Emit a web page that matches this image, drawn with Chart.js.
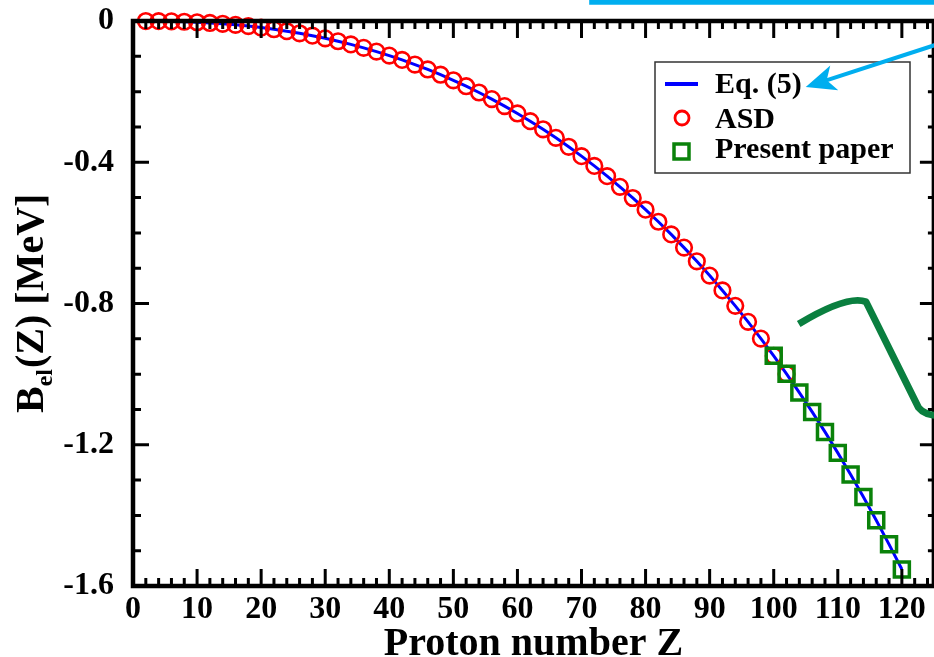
<!DOCTYPE html>
<html>
<head>
<meta charset="utf-8">
<script src="https://cdn.jsdelivr.net/npm/chart.js@4/dist/chart.umd.min.js"></script>
<style>
    html, body { margin: 0; padding: 0; background: #fff; overflow: hidden; }
    #wrap { position: relative; width: 948px; height: 657px; }
    canvas { display: block; }
</style>
</head>
<body>
<div id="wrap"><canvas id="belChart" width="948" height="657"></canvas></div>
<script>
// Datos (B_el en MeV)
const eqZ = [0, 2, 4, 6, 8, 10, 12, 14, 16, 18, 20, 22, 24, 26, 28, 30, 32, 34, 36, 38, 40,
    42, 44, 46, 48, 50, 52, 54, 56, 58, 60, 62, 64, 66, 68, 70, 72, 74, 76, 78, 80,
    82, 84, 86, 88, 90, 92, 94, 96, 98, 100, 102, 104, 106, 108, 110, 112, 114, 116, 118, 120];
const eqValues = [0, -0.0001, -0.0004, -0.0010, -0.0021, -0.0035, -0.0055, -0.0079, -0.0109, -0.0144, -0.0186,
    -0.0233, -0.0288, -0.0348, -0.0416, -0.0491, -0.0573, -0.0663, -0.0760, -0.0866, -0.0980,
    -0.1102, -0.1233, -0.1372, -0.1521, -0.1679, -0.1847, -0.2025, -0.2212, -0.2410, -0.2618,
    -0.2837, -0.3067, -0.3309, -0.3562, -0.3827, -0.4104, -0.4394, -0.4696, -0.5012, -0.5342,
    -0.5685, -0.6044, -0.6417, -0.6805, -0.7209, -0.7630, -0.8067, -0.8520, -0.8994, -0.9483,
    -0.9994, -1.0522, -1.1068, -1.1637, -1.2230, -1.2841, -1.3477, -1.4137, -1.4820, -1.5527];

const asdZ = [2, 4, 6, 8, 10, 12, 14, 16, 18, 20, 22, 24, 26, 28, 30, 32, 34, 36, 38, 40,
    42, 44, 46, 48, 50, 52, 54, 56, 58, 60, 62, 64, 66, 68, 70, 72, 74, 76, 78, 80,
    82, 84, 86, 88, 90, 92, 94, 96, 98, 100, 102];
const asdValues = [-0.0001, -0.0004, -0.0010, -0.0021, -0.0035, -0.0055, -0.0079, -0.0109, -0.0144, -0.0186,
    -0.0233, -0.0288, -0.0348, -0.0416, -0.0491, -0.0573, -0.0663, -0.0760, -0.0866, -0.0980,
    -0.1102, -0.1233, -0.1372, -0.1521, -0.1679, -0.1847, -0.2025, -0.2212, -0.2410, -0.2618,
    -0.2837, -0.3067, -0.3309, -0.3562, -0.3827, -0.4104, -0.4394, -0.4696, -0.5012, -0.5342,
    -0.5685, -0.6044, -0.6417, -0.6805, -0.7209, -0.7630, -0.8067, -0.8520, -0.8994, -0.9483, -0.9994];

const presentZ = [100, 102, 104, 106, 108, 110, 112, 114, 116, 118, 120];
const presentValues = [-0.948, -0.999, -1.052, -1.107, -1.164, -1.223, -1.284, -1.348, -1.414, -1.482, -1.553];

// Ejes
const xTicksMajor = [0, 10, 20, 30, 40, 50, 60, 70, 80, 90, 100, 110, 120];
const yTicksMajor = [0, -0.4, -0.8, -1.2, -1.6];
const legendLabels = ['Eq. (5)', 'ASD', 'Present paper'];
const xTitle = 'Proton number Z';

// Colores
const colors = {
    line: '#0000ff',
    asd: '#ff0000',
    present: '#0a820a',
    cyan: '#00aeef',
    bracket: '#0a7f3f'
};

const serif = '"Liberation Serif", "Times New Roman", serif';

function toPoints(xs, ys) {
    return xs.map((x, i) => ({ x: x, y: ys[i] }));
}

// Sin relleno extra por etiquetas que sobresalen
function noOverflow(scale) {
    scale.paddingLeft = 0;
    scale.paddingRight = 0;
    scale.paddingTop = 0;
    scale.paddingBottom = 0;
}

// Marco con marcas hacia dentro (estilo xmgrace)
const framePlugin = {
    id: 'frame',
    afterDatasetsDraw(chart) {
        const { ctx, chartArea: a, scales } = chart;
        const xs = scales.x, ys = scales.y;
        ctx.save();
        ctx.strokeStyle = '#000';
        ctx.lineCap = 'butt';
        ctx.lineWidth = 3;
        // marcas eje x (abajo y arriba)
        for (let v = 0; v <= 124; v += 2) {
            const px = xs.getPixelForValue(v);
            const len = v % 10 === 0 ? 17 : 8;
            ctx.beginPath();
            ctx.moveTo(px, a.bottom); ctx.lineTo(px, a.bottom - len);
            ctx.moveTo(px, a.top); ctx.lineTo(px, a.top + len);
            ctx.stroke();
        }
        // marcas eje y (izquierda y derecha)
        for (let k = 0; k <= 16; k++) {
            const py = ys.getPixelForValue(-k / 10);
            const len = k % 4 === 0 ? 14 : 6;
            ctx.beginPath();
            ctx.moveTo(a.left, py); ctx.lineTo(a.left + (k % 4 === 0 ? 16 : 8), py);
            ctx.moveTo(a.right, py); ctx.lineTo(a.right - len, py);
            ctx.stroke();
        }
        ctx.lineWidth = 4.5;
        ctx.strokeRect(a.left, a.top, a.right - a.left, a.bottom - a.top);
        ctx.restore();
    }
};

// Leyenda dentro del área y título del eje y con subíndice
const extrasPlugin = {
    id: 'extras',
    afterDraw(chart) {
        const { ctx, scales } = chart;
        const xs = scales.x, ys = scales.y;
        ctx.save();

        // leyenda
        const lx = 655, ly = 62, lw = 255, lh = 111;
        ctx.fillStyle = '#fff';
        ctx.fillRect(lx, ly, lw, lh);
        ctx.strokeStyle = '#333';
        ctx.lineWidth = 1.5;
        ctx.strokeRect(lx, ly, lw, lh);

        ctx.strokeStyle = colors.line;
        ctx.lineWidth = 4;
        ctx.beginPath(); ctx.moveTo(665, 84); ctx.lineTo(698, 84); ctx.stroke();

        ctx.strokeStyle = colors.asd;
        ctx.lineWidth = 2.8;
        ctx.beginPath(); ctx.arc(682, 118, 7, 0, Math.PI * 2); ctx.stroke();

        ctx.strokeStyle = colors.present;
        ctx.lineWidth = 3.5;
        ctx.strokeRect(674, 144, 15, 15);

        ctx.fillStyle = '#000';
        ctx.font = 'bold 30px ' + serif;
        ctx.textBaseline = 'alphabetic';
        ctx.textAlign = 'left';
        ctx.fillText(legendLabels[0], 715, 93);
        ctx.fillText(legendLabels[1], 715, 128);
        ctx.fillText(legendLabels[2], 715, 158);

        // título eje y: B_el(Z) [MeV]
        ctx.translate(43, 413);
        ctx.rotate(-Math.PI / 2);
        ctx.font = 'bold 40px ' + serif;
        ctx.fillText('B', 0, 0);
        let w = ctx.measureText('B').width;
        ctx.font = 'bold 24px ' + serif;
        ctx.fillText('el', w, 9);
        w += ctx.measureText('el').width + 1;
        ctx.font = 'bold 40px ' + serif;
        ctx.fillText('(Z) [MeV]', w, 0);
        ctx.setTransform(1, 0, 0, 1, 0, 0);

        // anotaciones (flecha cian y corchete verde), en coordenadas de datos
        const P = (x, y) => [xs.getPixelForValue(x), ys.getPixelForValue(y)];
        ctx.strokeStyle = colors.cyan;
        ctx.fillStyle = colors.cyan;
        ctx.lineWidth = 5;
        let p0 = P(71.2, 0.053), p1 = P(126, 0.053);
        ctx.beginPath(); ctx.moveTo(p0[0], p0[1]); ctx.lineTo(p1[0], p1[1]); ctx.stroke();

        const s = P(125.2, -0.068), t = P(105.0, -0.187);
        const ang = Math.atan2(t[1] - s[1], t[0] - s[0]);
        ctx.lineWidth = 4;
        ctx.beginPath(); ctx.moveTo(s[0], s[1]);
        ctx.lineTo(t[0] - 20 * Math.cos(ang), t[1] - 20 * Math.sin(ang)); ctx.stroke();
        ctx.beginPath();
        ctx.moveTo(t[0], t[1]);
        ctx.lineTo(t[0] - 30 * Math.cos(ang) + 13 * Math.sin(ang), t[1] - 30 * Math.sin(ang) - 13 * Math.cos(ang));
        ctx.lineTo(t[0] - 22 * Math.cos(ang), t[1] - 22 * Math.sin(ang));
        ctx.lineTo(t[0] - 30 * Math.cos(ang) - 13 * Math.sin(ang), t[1] - 30 * Math.sin(ang) + 13 * Math.cos(ang));
        ctx.closePath(); ctx.fill();

        ctx.strokeStyle = colors.bracket;
        ctx.lineWidth = 7;
        ctx.lineJoin = 'round';
        const b0 = P(103.9, -0.858), b1 = P(111.5, -0.792), b2 = P(114.4, -0.795),
              b3 = P(122.6, -1.095), b4 = P(123.6, -1.118), b5 = P(126, -1.118);
        ctx.beginPath();
        ctx.moveTo(b0[0], b0[1]);
        ctx.quadraticCurveTo(b1[0], b1[1] - 6, b2[0], b2[1]);
        ctx.lineTo(b3[0], b3[1]);
        ctx.quadraticCurveTo(b4[0], b4[1], b5[0], b5[1]);
        ctx.stroke();

        ctx.restore();
    }
};

const ctx = document.getElementById('belChart').getContext('2d');

const belChart = new Chart(ctx, {
    type: 'scatter',
    data: {
        datasets: [{
            label: legendLabels[0],
            data: toPoints(eqZ, eqValues),
            showLine: true,
            borderColor: colors.line,
            borderWidth: 3,
            pointRadius: 0,
            tension: 0,
            clip: false,
            order: 3
        }, {
            label: legendLabels[1],
            data: toPoints(asdZ, asdValues),
            showLine: false,
            pointStyle: 'circle',
            pointRadius: 7.8,
            borderColor: colors.asd,
            backgroundColor: 'rgba(0,0,0,0)',
            borderWidth: 2.6,
            clip: false,
            order: 2
        }, {
            label: legendLabels[2],
            data: toPoints(presentZ, presentValues),
            showLine: false,
            pointStyle: 'rect',
            pointRadius: 10.6,
            borderColor: colors.present,
            backgroundColor: 'rgba(0,0,0,0)',
            borderWidth: 3.5,
            clip: false,
            order: 1
        }]
    },
    options: {
        responsive: false,
        animation: false,
        layout: {
            padding: { top: 21, right: 4, left: 0, bottom: 0 }
        },
        plugins: {
            legend: { display: false },
            tooltip: { enabled: false }
        },
        scales: {
            x: {
                type: 'linear',
                min: 0,
                max: 125,
                grid: { display: false },
                border: { display: false },
                ticks: {
                    stepSize: 10,
                    includeBounds: false,
                    autoSkip: false,
                    maxRotation: 0,
                    padding: 0,
                    color: '#000',
                    font: { family: serif, size: 32, weight: 'bold', lineHeight: 1 },
                    callback: function(value) {
                        return xTicksMajor.includes(value) ? String(value) : null;
                    }
                },
                title: {
                    display: true,
                    text: xTitle,
                    color: '#000',
                    padding: { top: 0, bottom: -4 },
                    font: { family: serif, size: 40, weight: 'bold', lineHeight: 0.8 }
                },
                afterFit: function(scale) { scale.height = 71; noOverflow(scale); }
            },
            y: {
                type: 'linear',
                min: -1.6,
                max: 0,
                grid: { display: false },
                border: { display: false },
                ticks: {
                    stepSize: 0.4,
                    includeBounds: false,
                    padding: 11,
                    color: '#000',
                    font: { family: serif, size: 32, weight: 'bold' },
                    callback: function(value) {
                        const v = Math.round(value * 10) / 10;
                        return yTicksMajor.includes(v) ? (v === 0 ? '0' : v.toFixed(1)) : null;
                    }
                },
                afterFit: function(scale) { scale.width = 133; noOverflow(scale); }
            }
        }
    },
    plugins: [framePlugin, extrasPlugin]
});
</script>
</body>
</html>
